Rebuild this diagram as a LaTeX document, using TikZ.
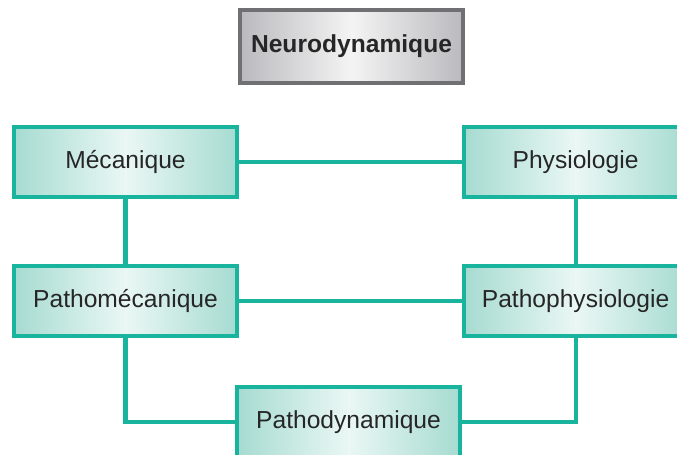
\documentclass[tikz,border=0pt]{standalone}
\usepackage{fontspec}
\setmainfont{Liberation Sans}
\usepackage{xcolor}
\usetikzlibrary{positioning}

\definecolor{tealline}{RGB}{24,180,158}
\definecolor{tealfill}{RGB}{166,219,209}
\definecolor{tealpale}{RGB}{234,247,244}
\definecolor{greyline}{RGB}{112,112,114}
\definecolor{greyfill}{RGB}{186,186,190}
\definecolor{greypale}{RGB}{244,244,244}

\begin{document}
\begin{tikzpicture}[
    box/.style={rectangle, draw=tealline, line width=2.3pt, minimum width=4.46cm, minimum height=1.40cm, align=center,
        left color=tealfill, right color=tealfill, middle color=tealpale, text=black!85, font=\fontsize{14}{16}\selectfont},
    topbox/.style={box, draw=greyline, minimum height=1.46cm, left color=greyfill, right color=greyfill, middle color=greypale,
        font=\fontsize{14}{16}\selectfont\bfseries},
    link/.style={draw=tealline, line width=2.3pt}
]
\useasboundingbox (0,0) rectangle (13.54,-9.1);

% Title
\node[topbox] (neuro) at (7.03,-0.93) {Neurodynamique};

% Upper row
\node[box] (meca) at (2.51,-3.24) {Mécanique};
\node[box, right=4.46cm of meca] (physio) {Physiologie};

% Lower row
\node[box, below=1.3cm of meca] (pathomeca) {Pathomécanique};
\node[box, right=4.46cm of pathomeca] (pathophysio) {Pathophysiologie};

% Bottom
\node[box] (pathodyn) at (6.97,-8.44) {Pathodynamique};

% Links
\draw[link] (meca) -- (physio);
\draw[link] (meca) -- (pathomeca);
\draw[link] (physio) -- (pathophysio);
\draw[link] (pathomeca) -- (pathophysio);
\draw[link] (pathomeca) |- (pathodyn);
\draw[link] (pathophysio) |- (pathodyn);

\end{tikzpicture}
\end{document}
